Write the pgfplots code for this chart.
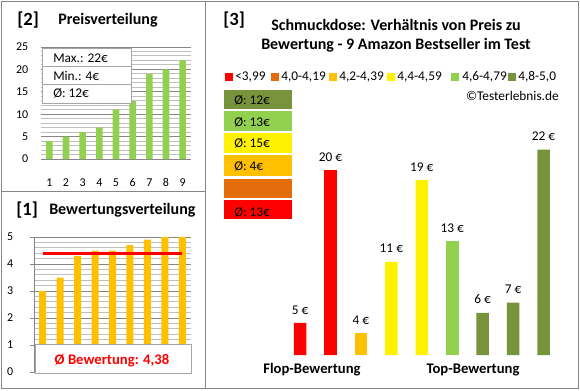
\documentclass[border=0pt]{standalone}
\usepackage{fontspec}
\setmainfont{Carlito}
\usepackage{pgfplots}
\pgfplotsset{compat=1.18}
\pgfplotsset{/pgf/number format/assume math mode=true}
\definecolor{lgreen}{HTML}{92D050}
\definecolor{dgreen}{HTML}{77933C}
\definecolor{gold}{HTML}{FFC000}
\definecolor{dorange}{HTML}{E46C0A}
\definecolor{majgrid}{HTML}{868686}
\definecolor{mingrid}{HTML}{BFBFBF}
\definecolor{frame}{HTML}{868686}
\definecolor{boxframe}{HTML}{A6A6A6}

\pgfplotstableread{
x y
1 4
2 5
3 6
4 7
5 11
6 13
7 19
8 20
9 22
}\pricedist
\pgfplotstableread{
x y
1 3.0
2 3.5
3 4.3
4 4.5
5 4.5
6 4.7
7 4.9
8 5.0
9 5.0
}\ratingdist

\begin{document}
\begin{tikzpicture}[x=0.75pt,y=-0.75pt]
\path (0,0) rectangle (580,390);
\coordinate (P1) at (41,159);
\coordinate (P2) at (34,372);
\coordinate (P3) at (269.6,355);
% frames
\draw[frame,line width=0.75pt] (1,1) rectangle (578,388);
\draw[frame,line width=0.75pt] (205,1) -- (205,388);
\draw[frame,line width=0.75pt] (1,191) -- (205,191);

% ---------- panel [2]
\node[anchor=base west,inner sep=0,font=\fontsize{14}{16}\selectfont\bfseries] at (17,25) {[2]};
\node[anchor=base west,inner sep=0,font=\fontsize{12}{14}\selectfont\bfseries] at (58,24) {Preisverteilung};
\begin{axis}[
  at={(P1)}, anchor=south west, scale only axis,
  width=112.5pt, height=84pt,
  xmin=0.5, xmax=9.5, ymin=0, ymax=25,
  xtick={1,...,9}, ytick={0,5,...,25}, minor ytick={1,2,3,4,6,7,8,9,11,12,13,14,16,17,18,19,21,22,23,24},
  ymajorgrids, yminorgrids,
  major grid style={majgrid,line width=0.75pt},
  minor grid style={mingrid,line width=0.75pt},
  axis line style={draw=none}, tick style={draw=none},
  ticklabel style={font=\fontsize{9}{10}\selectfont},
  yticklabel style={xshift=-6pt},
  xticklabel style={yshift=-11pt},
]
\addplot[ybar, bar width=4.9pt, bar shift=0pt, fill=lgreen, draw=none] table[x=x,y=y] {\pricedist};
\end{axis}
\draw[boxframe,fill=white,line width=0.75pt] (42,48) rectangle (131,103);
\draw[boxframe,line width=0.75pt] (42,66) -- (131,66);
\draw[boxframe,line width=0.75pt] (42,84) -- (131,84);
\node[anchor=base west,inner sep=0,font=\fontsize{10}{12}\selectfont] at (53,62) {Max.: 22€};
\node[anchor=base west,inner sep=0,font=\fontsize{10}{12}\selectfont] at (53,80) {Min.: 4€};
\node[anchor=base west,inner sep=0,font=\fontsize{10}{12}\selectfont] at (53,97.5) {Ø: 12€};

% ---------- panel [1]
\node[anchor=base west,inner sep=0,font=\fontsize{14}{16}\selectfont\bfseries] at (16,215) {[1]};
\node[anchor=base west,inner sep=0,font=\fontsize{12}{14}\selectfont\bfseries] at (49,214) {Bewertungsverteilung};
\begin{axis}[
  at={(P2)}, anchor=south west, scale only axis,
  width=117.75pt, height=101.25pt,
  xmin=0.5, xmax=9.5, ymin=0, ymax=5,
  xtick=\empty, ytick={0,...,5}, minor y tick num=4,
  ymajorgrids, yminorgrids,
  major grid style={majgrid,line width=0.75pt},
  minor grid style={mingrid,line width=0.75pt},
  axis x line*=bottom, axis y line*=left,
  x axis line style={draw=none},
  y axis line style={draw=majgrid,line width=0.75pt},
  tick align=outside, major tick length=3pt, minor tick length=0pt,
  ytick style={draw=majgrid,line width=0.75pt},
  ticklabel style={font=\fontsize{9}{10}\selectfont},
  yticklabel style={xshift=-9pt},
]
\addplot[ybar, bar width=5.25pt, bar shift=0pt, fill=gold, draw=none] table[x=x,y=y] {\ratingdist};
\addplot[red, line width=2.4pt, sharp plot, no marks] coordinates {(1,4.38) (9,4.38)};
\end{axis}
\draw[boxframe,fill=white,line width=0.75pt] (35,344) rectangle (191,373);
\node[anchor=base,inner sep=0,text=red,font=\fontsize{11}{13}\selectfont\bfseries] at (112,364) {Ø Bewertung: 4,38};

% ---------- panel [3]
\node[anchor=base west,inner sep=0,font=\fontsize{14}{16}\selectfont\bfseries] at (223,25) {[3]};
\node[anchor=base,inner sep=0,font=\fontsize{12}{14}\selectfont\bfseries] at (396,30) {Schmuckdose: Verhältnis von Preis zu};
\node[anchor=base,inner sep=0,font=\fontsize{12}{14}\selectfont\bfseries] at (396,49.3) {Bewertung - 9 Amazon Bestseller im Test};
% legend
\fill[red] (225,72.7) rectangle (233,80.7);
\node[anchor=base west,inner sep=0,font=\fontsize{10}{12}\selectfont] at (235,80.7) {<3,99};
\fill[dorange] (271,72.7) rectangle (279,80.7);
\node[anchor=base west,inner sep=0,font=\fontsize{10}{12}\selectfont] at (281,80.7) {4,0-4,19};
\fill[gold] (329,72.7) rectangle (337,80.7);
\node[anchor=base west,inner sep=0,font=\fontsize{10}{12}\selectfont] at (339,80.7) {4,2-4,39};
\fill[yellow] (387,72.7) rectangle (395,80.7);
\node[anchor=base west,inner sep=0,font=\fontsize{10}{12}\selectfont] at (397,80.7) {4,4-4,59};
\fill[lgreen] (451,72.7) rectangle (459,80.7);
\node[anchor=base west,inner sep=0,font=\fontsize{10}{12}\selectfont] at (462,80.7) {4,6-4,79};
\fill[dgreen] (508,72.7) rectangle (516,80.7);
\node[anchor=base west,inner sep=0,font=\fontsize{10}{12}\selectfont] at (518,80.7) {4,8-5,0};
\node[anchor=base east,inner sep=0,font=\fontsize{10}{12}\selectfont] at (559,100.7) {©Testerlebnis.de};
% average boxes
\fill[dgreen] (224,90) rectangle (292,109);
\fill[lgreen] (224,111) rectangle (292,130.7);
\fill[yellow] (224,133) rectangle (292,153.3);
\fill[gold] (224,155) rectangle (292,175.7);
\fill[dorange] (224,178.7) rectangle (292,197.7);
\fill[red] (224,200) rectangle (292,219.3);
\node[anchor=base west,inner sep=0,font=\fontsize{10}{12}\selectfont] at (234,104.3) {Ø: 12€};
\node[anchor=base west,inner sep=0,font=\fontsize{10}{12}\selectfont] at (234,126.5) {Ø: 13€};
\node[anchor=base west,inner sep=0,font=\fontsize{10}{12}\selectfont] at (234,147.3) {Ø: 15€};
\node[anchor=base west,inner sep=0,font=\fontsize{10}{12}\selectfont] at (234,170) {Ø: 4€};
\node[anchor=base west,inner sep=0,font=\fontsize{10}{12}\selectfont] at (234,216.7) {Ø: 13€};

\begin{axis}[
  at={(P3)}, anchor=south west, scale only axis,
  width=228.3pt, height=177pt,
  xmin=0, xmax=10, ymin=1.86, ymax=25,
  hide axis, clip mode=individual,
  nodes near coords={\pgfmathprintnumber{\pgfplotspointmeta}~€},
  every node near coord/.append style={font=\fontsize{10}{12}\selectfont, yshift=3pt},
]
\addplot[ybar, bar width=9.4pt, bar shift=0pt, fill=red, draw=none] coordinates {(1,5) (2,20)};
\addplot[ybar, bar width=9.4pt, bar shift=0pt, fill=gold, draw=none] coordinates {(3,4)};
\addplot[ybar, bar width=9.4pt, bar shift=0pt, fill=yellow, draw=none] coordinates {(4,11) (5,19)};
\addplot[ybar, bar width=9.4pt, bar shift=0pt, fill=lgreen, draw=none] coordinates {(6,13)};
\addplot[ybar, bar width=9.4pt, bar shift=0pt, fill=dgreen, draw=none] coordinates {(7,6) (8,7) (9,22)};
\end{axis}
\node[anchor=base,inner sep=0,font=\fontsize{11}{13}\selectfont\bfseries] at (312,373) {Flop-Bewertung};
\node[anchor=base,inner sep=0,font=\fontsize{11}{13}\selectfont\bfseries] at (473,373) {Top-Bewertung};
\end{tikzpicture}
\end{document}
